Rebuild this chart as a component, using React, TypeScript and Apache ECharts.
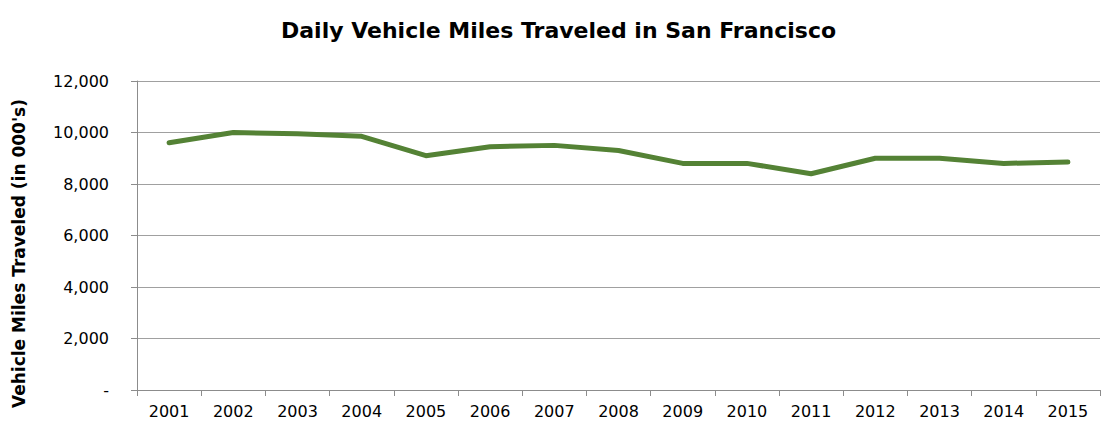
import React, { useEffect, useRef } from "react";
import * as echarts from "echarts";

const years = ["2001","2002","2003","2004","2005","2006","2007","2008","2009","2010","2011","2012","2013","2014","2015"];
const vmt = [9600, 10000, 9950, 9850, 9100, 9450, 9500, 9300, 8800, 8800, 8400, 9000, 9000, 8800, 8850];
const titleText = "Daily Vehicle Miles Traveled in San Francisco";
const yAxisName = "Vehicle Miles Traveled (in 000's)";

export default function App() {
  const ref = useRef<HTMLDivElement>(null);
  useEffect(() => {
    if (!ref.current) return;
    const chart = echarts.init(ref.current, undefined, { renderer: "svg" });
    const font = "'DejaVu Sans', sans-serif";
    chart.setOption({
      animation: false,
      backgroundColor: "#ffffff",
      title: {
        text: titleText,
        left: 276,
        top: 14,
        textStyle: { fontFamily: font, fontWeight: "bold", fontSize: 22, color: "#000" },
      },
      grid: { left: 137, right: 2, top: 81, bottom: 34, containLabel: false },
      xAxis: {
        type: "category",
        data: years,
        boundaryGap: true,
        axisLine: { lineStyle: { color: "#8c8c8c", width: 1 } },
        axisTick: { show: true, alignWithLabel: false, length: 6, lineStyle: { color: "#8c8c8c" } },
        axisLabel: { fontFamily: font, fontSize: 16, color: "#000", margin: 13, interval: 0 },
        splitLine: { show: false },
      },
      yAxis: {
        type: "value",
        min: 0,
        max: 12000,
        interval: 2000,
        name: yAxisName,
        nameLocation: "middle",
        nameGap: 110,
        nameTextStyle: { fontFamily: font, fontWeight: "bold", fontSize: 17, color: "#000", padding: [0, 36, 0, 0] },
        axisLine: { show: true, lineStyle: { color: "#8c8c8c", width: 1 } },
        axisTick: { show: true, length: 6, lineStyle: { color: "#8c8c8c" } },
        axisLabel: {
          fontFamily: font,
          fontSize: 16,
          color: "#000",
          margin: 28,
          formatter: (v: number) => (v === 0 ? "-" : v.toLocaleString("en-US")),
        },
        splitLine: { show: true, lineStyle: { color: "#a0a0a0", width: 1 } },
      },
      series: [
        {
          type: "line",
          data: vmt,
          symbol: "none",
          lineStyle: { color: "#548235", width: 5, cap: "round", join: "round" },
          itemStyle: { color: "#548235" },
        },
      ],
    });
    return () => chart.dispose();
  }, []);
  return (
    <div
      ref={ref}
      style={{ position: "fixed", left: 0, top: 0, width: 1102, height: 424 }}
    />
  );
}
